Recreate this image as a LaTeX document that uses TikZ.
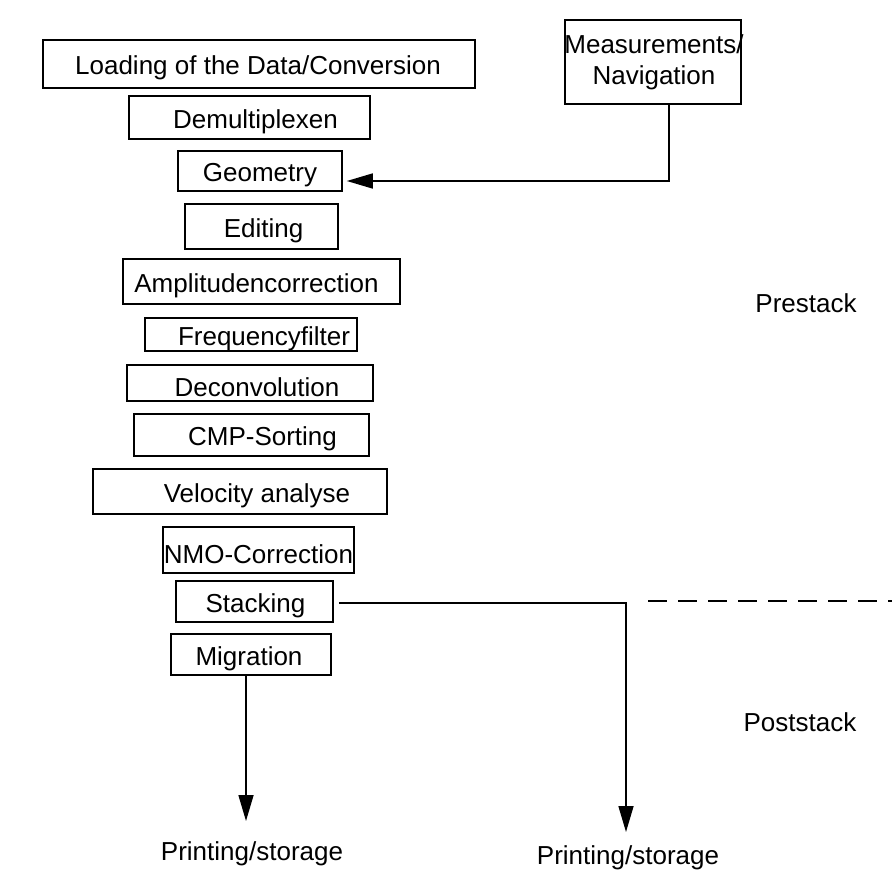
\documentclass[tikz,border=0pt]{standalone}
\usepackage{fontspec}
\setmainfont{Liberation Sans}
\usetikzlibrary{arrows.meta}
\tikzset{
  box/.style={draw, line width=1.6pt, inner sep=0pt},
  lbl/.style={font=\fontsize{26}{31}\selectfont, inner sep=0pt},
  conn/.style={line width=1.6pt},
  tip/.style={-{Triangle[length=26pt,width=15pt]}},
  dashline/.style={line width=1.6pt, dash pattern=on 19pt off 11pt}
}
% name, x1, y1, x2, y2, text xshift, text
\newcommand\pbox[7]{\node[box, minimum width={#4-#2}, minimum height={#5-#3},
  label={[lbl, xshift=#6pt, yshift=-4pt]center:#7}] (#1) at ({(#2+#4)/2},{(#3+#5)/2}) {};}
\begin{document}
\begin{tikzpicture}[x=1pt,y=-1pt]
\fill[white] (0,0) rectangle (892,875);
\useasboundingbox (0,0) rectangle (892,875);

\pbox{load}{43}{40}{475}{88}{-1}{Loading of the Data/Conversion}
\pbox{demux}{129}{96}{370}{139}{6}{Demultiplexen}
\pbox{geom}{178}{151}{342}{191}{0}{Geometry}
\pbox{edit}{185}{204}{338}{249}{2}{Editing}
\pbox{ampl}{123}{259}{400}{304}{-5}{Amplitudencorrection}
\pbox{freq}{145}{318}{357}{351}{13}{Frequencyfilter}
\pbox{decon}{127}{365}{373}{401}{7}{Deconvolution}
\pbox{cmp}{134}{414}{369}{456}{11}{CMP-Sorting}
\pbox{velo}{93}{469}{387}{514}{17}{Velocity analyse}
\pbox{nmo}{163}{527}{354}{573}{0}{NMO-Correction}
\pbox{stack}{176}{581}{333}{622}{1}{Stacking}
\pbox{migr}{171}{634}{331}{675}{-2}{Migration}
\node[box, minimum width=176, minimum height=84,
  label={[lbl, align=center, xshift=1pt]center:{Measurements/\\Navigation}}] (meas) at (653,62) {};

\node[lbl, anchor=base] (pre) at (806,312) {Prestack};
\node[lbl, anchor=base] (post) at (800,731) {Poststack};
\node[lbl, anchor=base] (print1) at (252,860) {Printing/storage};
\node[lbl, anchor=base] (print2) at (628,864) {Printing/storage};

\coordinate (c1) at (669,181);
\coordinate (c2) at (626,603);
\coordinate (tip1) at (246,821);
\coordinate (tip2) at (626,832);
\coordinate (d1) at (648,601);
\coordinate (d2) at (892,601);

\draw[conn, tip, shorten >=4pt] (meas.south -| c1) -- (c1) -- (c1 -| geom.east);
\draw[conn, tip, shorten <=5pt] (stack.east |- c2) -- (c2) -- (tip2);
\draw[conn, tip] (migr.south -| tip1) -- (tip1);
\draw[dashline] (d1) -- (d2);
\end{tikzpicture}
\end{document}
